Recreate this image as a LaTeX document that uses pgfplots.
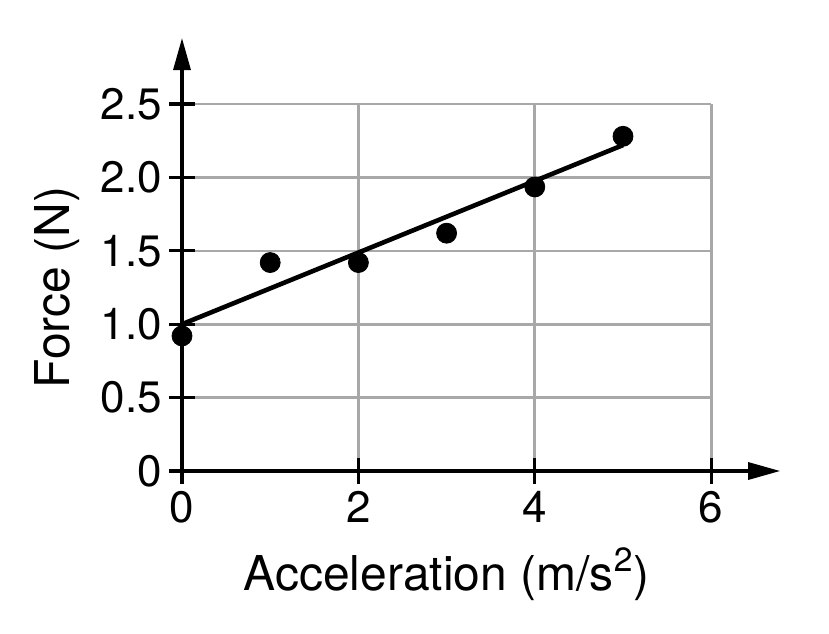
\documentclass[border=0pt]{standalone}
\usepackage{pgfplots}
\pgfplotsset{compat=1.18}
\usepackage{fontspec}
\setmainfont{TeX Gyre Heros}
\usetikzlibrary{arrows.meta}
\begin{document}
\begin{tikzpicture}
\begin{axis}[
  at={(0,0)}, anchor=south west,
  x=44.1pt, y=73.4pt,
  xmin=0, xmax=6, ymin=0, ymax=2.5,
  enlargelimits=false,
  clip=false,
  axis lines=left,
  axis line style={line width=1.6pt, black},
  x axis line style={-{Triangle[length=16pt,width=8.5pt]}, shorten >=-34.5pt},
  y axis line style={-{Triangle[length=16pt,width=8.5pt]}, shorten >=-33pt},
  xtick={0,2,4,6},
  ytick={0,0.5,1.0,1.5,2.0,2.5},
  yticklabels={0,0.5,1.0,1.5,2.0,2.5},
  tick align=center,
  major tick length=13pt,
  tick style={line width=1.6pt, black},
  grid=major,
  grid style={line width=1.3pt, color={rgb,255:red,168;green,168;blue,168}},
  /pgf/number format/assume math mode=true,
  tick label style={font=\fontsize{22pt}{26pt}\selectfont},
  xlabel={Acceleration (m/s\textsuperscript{2})},
  ylabel={Force (N)},
  label style={font=\fontsize{24pt}{28pt}\selectfont},
  xlabel style={at={(axis cs:3,0)}, anchor=base, yshift=-59.5pt},
  ylabel style={at={(axis cs:0,1.25)}, anchor=base, yshift=56pt},
]
\addplot[line width=2.3pt, black] coordinates {(0,1.0) (5,2.22)};
\addplot[only marks, mark=*, mark size=5pt, black] coordinates {
(0,0.92) (1,1.42) (2,1.42) (3,1.62) (4,1.935) (5,2.28)};
\end{axis}
\pgfresetboundingbox
\path (-91pt,-81pt) rectangle (323.5pt,235.5pt);
\end{tikzpicture}
\end{document}
